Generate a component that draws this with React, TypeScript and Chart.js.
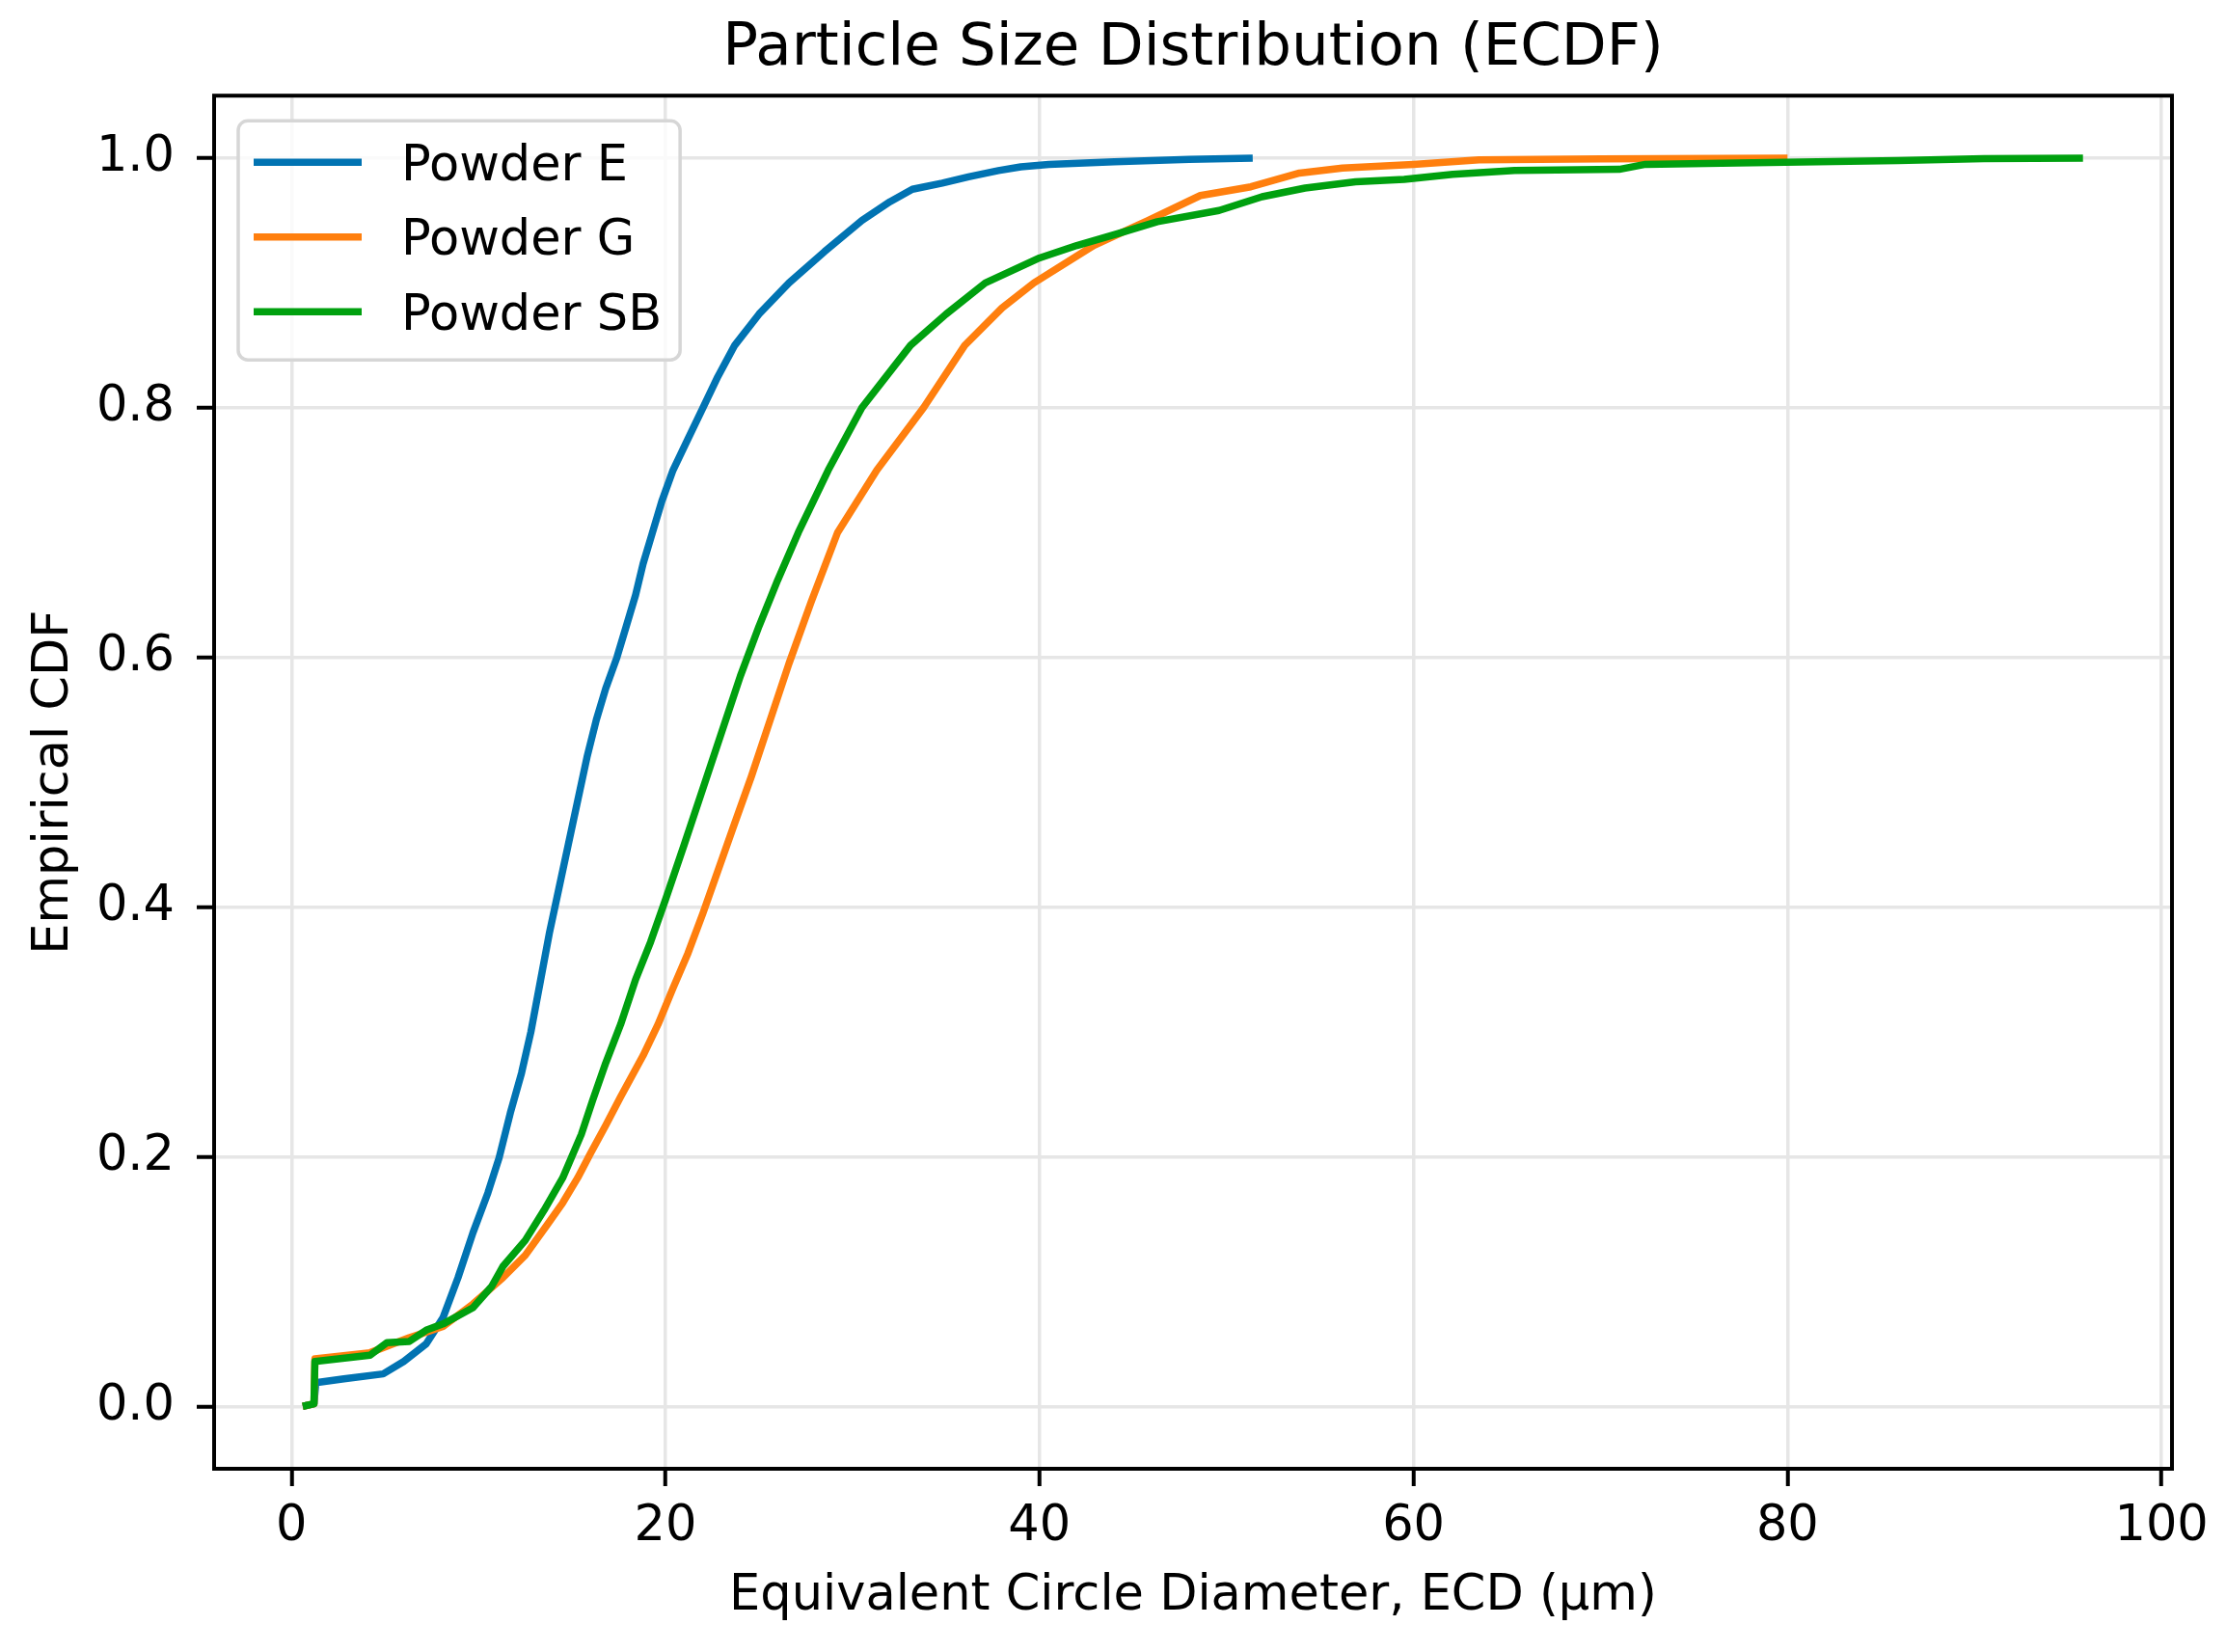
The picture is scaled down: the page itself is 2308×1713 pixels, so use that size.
import React, { useEffect, useRef } from "react";
import { Chart, registerables } from "chart.js";

Chart.register(...registerables);

const TITLE = "Particle Size Distribution (ECDF)";
const X_LABEL = "Equivalent Circle Diameter, ECD (µm)";
const Y_LABEL = "Empirical CDF";
const X_TICKS = [0, 20, 40, 60, 80, 100];
const Y_TICKS = [0, 0.2, 0.4, 0.6, 0.8, 1.0];
const X_MIN = -4.14;
const X_MAX = 100.56;
const Y_MIN = -0.05;
const Y_MAX = 1.05;

const SERIES_NAMES = ["Powder E", "Powder G", "Powder SB"];
const SERIES_COLORS = ["#0173B2", "#FF7F0E", "#00A00F"];

const POWDER_E_X = [0.6, 1.2, 1.3, 2.8, 4.9, 6.0, 7.2, 8.1, 8.9, 9.7, 10.5, 11.1, 11.7, 12.3, 12.8, 13.3, 13.8, 14.3, 14.8, 15.3, 15.8, 16.3, 16.8, 17.4, 17.9, 18.4, 18.8, 19.3, 19.8, 20.4, 21.2, 22.0, 22.8, 23.7, 25.0, 26.6, 28.5, 30.5, 32.0, 33.2, 34.8, 36.2, 37.8, 39.0, 40.5, 44.0, 48.0, 51.4];
const POWDER_E_Y = [0, 0.002, 0.019, 0.022, 0.026, 0.036, 0.05, 0.071, 0.103, 0.139, 0.171, 0.199, 0.235, 0.267, 0.3, 0.34, 0.38, 0.415, 0.45, 0.485, 0.52, 0.55, 0.575, 0.6, 0.625, 0.65, 0.675, 0.7, 0.725, 0.75, 0.775, 0.8, 0.825, 0.85, 0.875, 0.9, 0.925, 0.95, 0.965, 0.975, 0.98, 0.985, 0.99, 0.993, 0.995, 0.997, 0.999, 1.0];

const POWDER_G_X = [0.6, 1.2, 1.25, 4.2, 6.3, 8.1, 9.7, 11.3, 12.5, 13.7, 14.5, 15.3, 16.0, 16.8, 17.6, 18.8, 19.6, 20.4, 21.2, 22.0, 22.8, 23.6, 24.6, 25.6, 26.6, 27.8, 29.2, 31.3, 33.8, 36.0, 38.0, 39.7, 42.9, 45.8, 48.6, 51.3, 53.9, 56.2, 60.0, 63.5, 70.0, 80.0];
const POWDER_G_Y = [0, 0.002, 0.038, 0.043, 0.055, 0.064, 0.082, 0.103, 0.121, 0.146, 0.163, 0.183, 0.203, 0.225, 0.248, 0.281, 0.306, 0.335, 0.363, 0.395, 0.429, 0.463, 0.505, 0.55, 0.595, 0.645, 0.7, 0.75, 0.8, 0.85, 0.88, 0.9, 0.93, 0.95, 0.97, 0.977, 0.988, 0.992, 0.995, 0.9985, 0.9993, 1.0];

const POWDER_SB_X = [0.6, 1.2, 1.25, 4.2, 5.1, 6.3, 7.2, 8.1, 9.7, 10.7, 11.3, 12.5, 13.5, 14.5, 15.5, 16.1, 16.8, 17.6, 18.4, 19.2, 20.0, 21.0, 22.0, 23.0, 24.0, 25.0, 26.0, 27.1, 28.7, 30.5, 33.1, 35.0, 37.1, 40.0, 42.0, 44.3, 46.3, 49.6, 51.9, 54.2, 56.9, 59.5, 62.1, 65.4, 71.0, 72.4, 77.3, 85.9, 90.5, 95.8];
const POWDER_SB_Y = [0, 0.002, 0.036, 0.041, 0.051, 0.052, 0.061, 0.066, 0.079, 0.096, 0.112, 0.133, 0.157, 0.183, 0.218, 0.245, 0.275, 0.306, 0.342, 0.372, 0.406, 0.45, 0.495, 0.54, 0.585, 0.625, 0.662, 0.7, 0.75, 0.8, 0.85, 0.875, 0.9, 0.92, 0.93, 0.94, 0.949, 0.958, 0.969, 0.976, 0.981, 0.983, 0.987, 0.99, 0.991, 0.995, 0.996, 0.998, 0.9995, 1.0];

const SERIES_X = [POWDER_E_X, POWDER_G_X, POWDER_SB_X];
const SERIES_Y = [POWDER_E_Y, POWDER_G_Y, POWDER_SB_Y];

const FONT = "'DejaVu Sans', 'Liberation Sans', sans-serif";
const W = 2308;
const H = 1713;

const framePlugin = {
  id: "frame",
  afterDatasetsDraw(chart: any) {
    const { ctx, chartArea } = chart;
    const { left, top, right, bottom } = chartArea;
    ctx.save();
    ctx.strokeStyle = "#000";
    ctx.lineWidth = 4;
    ctx.strokeRect(left, top, right - left, bottom - top);
    ctx.restore();
  },
};

const legendPlugin = {
  id: "mplLegend",
  afterDraw(chart: any) {
    const { ctx, chartArea } = chart;
    const fontSize = 51;
    const bx = chartArea.left + 25;
    const by = chartArea.top + 26;
    const rowH = 77.5;
    const firstRow = 43;
    const lastPad = 50;
    ctx.save();
    ctx.font = `${fontSize}px ${FONT}`;
    let maxW = 0;
    chart.data.datasets.forEach((ds: any) => {
      maxW = Math.max(maxW, ctx.measureText(ds.label).width);
    });
    const bw = 169 + maxW + 19;
    const bh = firstRow + lastPad + rowH * (chart.data.datasets.length - 1);
    ctx.beginPath();
    ctx.roundRect(bx, by, bw, bh, 10);
    ctx.fillStyle = "rgba(255,255,255,0.8)";
    ctx.fill();
    ctx.lineWidth = 3.5;
    ctx.strokeStyle = "#d6d6d6";
    ctx.stroke();
    chart.data.datasets.forEach((ds: any, i: number) => {
      const cy = by + firstRow + i * rowH;
      ctx.beginPath();
      ctx.moveTo(bx + 16, cy);
      ctx.lineTo(bx + 128, cy);
      ctx.strokeStyle = ds.borderColor;
      ctx.lineWidth = 7.5;
      ctx.stroke();
      ctx.fillStyle = "#000";
      ctx.textAlign = "left";
      ctx.textBaseline = "alphabetic";
      ctx.fillText(ds.label, bx + 169, cy + 0.3645 * fontSize);
    });
    ctx.restore();
  },
};

export default function App() {
  const canvasRef = useRef<HTMLCanvasElement | null>(null);

  useEffect(() => {
    const canvas = canvasRef.current;
    if (!canvas) return;
    Chart.defaults.font.family = FONT;
    Chart.defaults.color = "#000";

    const datasets = SERIES_NAMES.map((name, i) => ({
      label: name,
      data: SERIES_X[i].map((x, j) => ({ x, y: SERIES_Y[i][j] })),
      borderColor: SERIES_COLORS[i],
      backgroundColor: SERIES_COLORS[i],
      borderWidth: 7.5,
      pointRadius: 0,
      pointHoverRadius: 0,
      tension: 0,
      fill: false,
      order: SERIES_NAMES.length - i,
      borderJoinStyle: "round" as const,
    }));

    const chart = new Chart(canvas, {
      type: "line",
      data: { datasets },
      plugins: [framePlugin, legendPlugin],
      options: {
        animation: false,
        responsive: false,
        devicePixelRatio: 1,
        layout: { padding: { top: 0, left: 0, right: 56, bottom: 0 } },
        plugins: {
          legend: { display: false },
          tooltip: { enabled: false },
          title: {
            display: true,
            text: TITLE,
            fullSize: false,
            color: "#000",
            font: { family: FONT, size: 61, weight: "normal", lineHeight: 1.2 },
            padding: { top: 15, bottom: 11 },
          },
        },
        scales: {
          x: {
            type: "linear",
            min: X_MIN,
            max: X_MAX,
            afterBuildTicks: (scale: any) => {
              scale.ticks = X_TICKS.map((v) => ({ value: v }));
            },
            afterFit: (scale: any) => {
              scale.height = 190;
            },
            ticks: {
              autoSkip: false,
              maxRotation: 0,
              padding: 12,
              color: "#000",
              font: { family: FONT, size: 51 },
              callback: (v: any) => String(v),
            },
            grid: {
              color: "#e6e6e6",
              lineWidth: 3.5,
              tickColor: "#000",
              tickWidth: 4,
              tickLength: 18,
              drawTicks: true,
            },
            border: { display: false },
            title: {
              display: true,
              text: X_LABEL,
              color: "#000",
              font: { family: FONT, size: 51 },
              padding: { top: 0, bottom: 27 },
            },
          },
          y: {
            type: "linear",
            min: Y_MIN,
            max: Y_MAX,
            afterBuildTicks: (scale: any) => {
              scale.ticks = Y_TICKS.map((v) => ({ value: v }));
            },
            afterFit: (scale: any) => {
              scale.width = 222;
            },
            ticks: {
              autoSkip: false,
              padding: 23,
              color: "#000",
              font: { family: FONT, size: 51 },
              callback: (v: any) => Number(v).toFixed(1),
            },
            grid: {
              color: "#e6e6e6",
              lineWidth: 3.5,
              tickColor: "#000",
              tickWidth: 4,
              tickLength: 18,
              drawTicks: true,
            },
            border: { display: false },
            title: {
              display: true,
              text: Y_LABEL,
              color: "#000",
              font: { family: FONT, size: 51 },
              padding: { top: 26, bottom: 0 },
            },
          },
        },
      },
    } as any);

    return () => chart.destroy();
  }, []);

  return (
    <div style={{ position: "absolute", left: 0, top: 0, width: W, height: H, background: "#fff" }}>
      <canvas ref={canvasRef} width={W} height={H} style={{ width: W, height: H, display: "block" }} />
    </div>
  );
}
